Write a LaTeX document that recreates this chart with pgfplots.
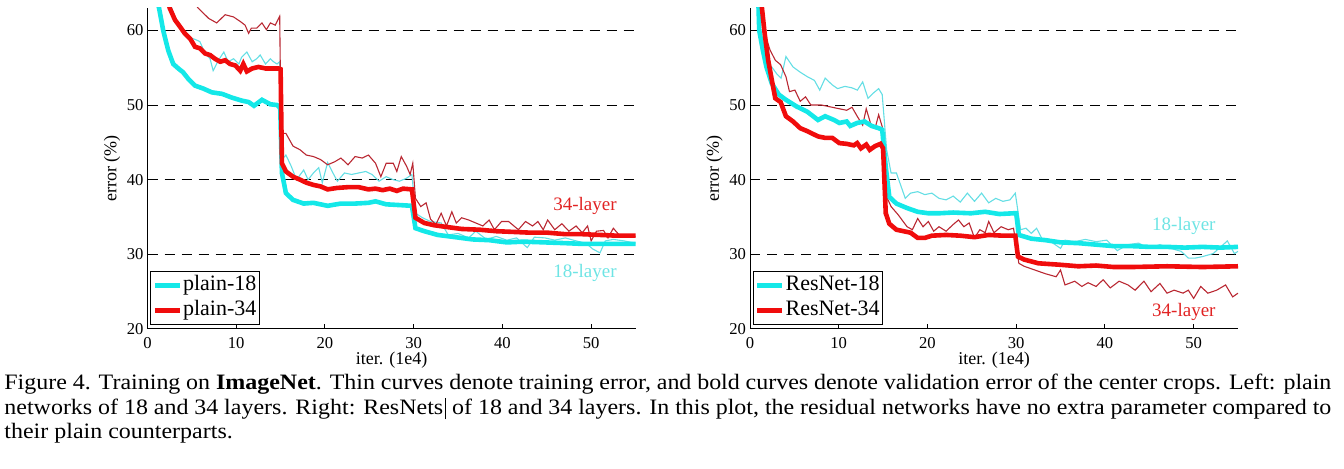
\documentclass[border=0pt]{standalone}
\usepackage{fontspec}
\setmainfont{Liberation Serif}
\usepackage{graphicx}
\usepackage{pgfplots}
\pgfplotsset{compat=1.18}

\definecolor{vcyan}{RGB}{20,232,232}
\definecolor{tcyan}{RGB}{100,222,228}
\definecolor{vred}{RGB}{240,12,12}
\definecolor{tred}{RGB}{185,40,50}
\definecolor{lred}{RGB}{225,35,35}
\definecolor{lcyan}{RGB}{110,228,228}

\pgfplotsset{
 myaxis/.style={
  scale only axis, width=244pt, height=160.5pt,
  xmin=0,xmax=55,ymin=20,ymax=63,
  axis x line*=bottom, axis y line*=left,
  xtick={0,10,...,50}, ytick={20,30,...,60},
  tick align=inside, major tick length=2.5pt,
  ymajorgrids, grid style={black, line width=0.5pt, dash pattern=on 5pt off 3.5pt},
  axis line style={black, line width=0.5pt},
  tick style={black, line width=0.5pt},
  ticklabel style={font=\fontsize{8.3}{9}\selectfont},
  /pgf/number format/assume math mode=true,
  xticklabel style={inner sep=1pt, yshift=-3.25pt},
  yticklabel style={xshift=1.5pt},
  xlabel={iter. (1e4)}, ylabel={error (\%)},
  every axis x label/.style={at={(axis description cs:0.5,0)}, anchor=center, inner sep=0pt, yshift=-15.75pt, font=\fontsize{9}{10}\selectfont},
  every axis y label/.style={at={([xshift=-17.75pt]axis description cs:0,0.5)}, anchor=center, rotate=90, font=\fontsize{9}{10}\selectfont},
  legend style={at={(axis description cs:0,0)}, anchor=south west, xshift=1.25pt, yshift=2pt, draw=black, line width=0.5pt, font=\fontsize{11}{11}\selectfont, inner xsep=1pt, inner ysep=1.5pt, row sep=1.5pt, nodes={inner sep=0.5pt, text height=7.5pt, text depth=2.5pt}},
  legend cell align=left,
  legend image code/.code={\draw[##1, line width=2.3pt] (0pt,0pt) -- (12.5pt,0pt);},
 },
 trainline/.style={line width=0.55pt, forget plot},
 valline/.style={line width=2.3pt},
}

\begin{document}
\begin{tikzpicture}
\path[use as bounding box] (0,0) rectangle (672pt,234.5pt);

% ---------------- Left: plain ----------------
\begin{axis}[myaxis, at={(73.75pt,70pt)}, anchor=south west]
% plain-18 train
\addplot[tcyan, trainline] coordinates {(2.6,63.5) (3.1,61.6) (3.66,60.6) (4.2,59.8) (4.8,59.0) (5.36,58.8) (5.9,58.5) (6.5,56.9) (7.05,56.2) (7.4,54.6) (8.0,56.0) (8.6,57.1) (9.1,55.8) (9.7,56.2) (10.3,55.5) (10.6,56.4) (11.2,57.1) (11.8,55.8) (12.3,56.2) (12.7,56.7) (13.3,55.5) (13.85,56.2) (14.2,55.8) (14.6,55.5) (14.9,55.8) (15.15,42.7) (15.6,43.3) (16.2,41.8) (16.8,40.0) (17.6,41.3) (18.1,40.0) (18.7,40.9) (19.3,41.6) (19.7,39.6) (20.3,42.3) (20.9,40.9) (21.4,39.8) (22.2,40.9) (23.0,40.7) (23.8,40.9) (24.6,41.1) (25.3,40.7) (26.1,39.8) (26.9,40.4) (27.7,40.0) (28.4,39.8) (29.2,40.2) (29.8,40.7) (30.2,35.5) (31.0,34.9) (31.9,34.4) (33.1,34.2) (33.9,32.6) (35.0,32.8) (36.2,32.2) (37.0,33.1) (38.2,32.0) (39.3,32.4) (40.5,31.9) (41.6,32.2) (42.8,30.9) (43.6,32.3) (44.8,32.2) (45.9,31.9) (47.1,32.2) (48.3,31.8) (49.4,31.5) (50.2,30.7) (51.0,30.2) (51.6,31.8) (52.5,32.0) (53.7,31.8) (55,31.5)};
% plain-34 train
\addplot[tred, trainline] coordinates {(5.4,63.5) (5.7,63) (6.3,62.3) (6.9,61.6) (7.8,61.0) (8.75,62.1) (9.7,61.8) (10.45,61.2) (11.0,60.7) (11.4,59.6) (11.7,60.3) (12.3,60.3) (12.9,61.0) (13.4,60.1) (13.85,61.0) (14.4,60.7) (14.9,61.9) (15.05,46.2) (15.6,46.2) (16.4,44.5) (17.2,44.0) (17.9,43.3) (18.7,43.1) (19.5,42.7) (20.3,42.0) (21.1,42.4) (21.8,42.9) (22.6,42.0) (23.4,43.1) (24.2,42.9) (24.9,43.3) (25.7,42.2) (26.3,40.4) (26.9,42.2) (27.7,42.2) (28.1,41.1) (28.6,43.1) (29.2,41.8) (29.6,40.7) (29.9,42.2) (30.2,37.5) (30.8,36.4) (31.4,36.9) (31.9,34.7) (32.5,34.0) (33.1,35.5) (33.7,33.8) (34.3,35.7) (34.8,34.2) (35.4,34.9) (36.2,34.6) (37.0,34.2) (37.8,33.8) (38.5,34.6) (39.1,33.3) (39.9,34.4) (40.7,34.4) (41.3,33.8) (41.8,33.3) (42.6,34.4) (43.4,33.8) (44.0,34.4) (44.6,33.3) (45.1,34.6) (45.9,33.3) (46.7,34.1) (47.5,33.1) (48.3,33.8) (49.0,32.9) (49.6,33.8) (50.0,31.8) (50.6,33.1) (51.4,33.2) (51.9,32.2) (52.5,33.5) (53.3,32.4) (54.1,32.6) (55,32.4)};
% plain-18 val
\addplot[vcyan, valline] coordinates {(1.2,63.5) (1.3,63) (1.77,60) (2.34,57.3) (2.9,55.5) (3.47,54.9) (4.0,54.4) (4.6,53.5) (5.36,52.6) (6.3,52.2) (7.25,51.7) (8.4,51.5) (9.5,51.0) (10.6,50.6) (11.4,50.4) (12.0,49.9) (12.9,50.7) (13.85,50.1) (14.6,50.0) (14.96,49.6) (15.15,40.9) (15.6,38.2) (16.4,37.3) (17.6,36.8) (18.7,36.9) (20.3,36.5) (21.8,36.8) (23.4,36.8) (24.9,36.9) (25.7,37.1) (26.9,36.7) (28.4,36.6) (29.8,36.5) (30.2,33.5) (31.2,33.1) (32.7,32.6) (34.7,32.3) (36.6,32.0) (38.5,31.9) (40.5,31.6) (42.4,31.7) (44.8,31.6) (47.1,31.5) (49.0,31.4) (51.0,31.4) (52.9,31.4) (55,31.4)};
\addlegendentry{plain-18}
% plain-34 val
\addplot[vred, valline] coordinates {(2.4,63.5) (2.5,63) (3.1,61.4) (3.66,60.5) (4.2,59.6) (4.8,58.9) (5.36,57.8) (5.9,57.6) (6.5,56.9) (7.05,56.7) (7.6,56.2) (8.2,55.8) (8.75,56.0) (9.3,55.5) (9.9,55.3) (10.45,54.6) (10.8,55.5) (11.2,54.5) (11.8,54.9) (12.5,55.1) (13.3,54.9) (14.0,54.9) (14.8,54.9) (15.0,54.8) (15.15,42.2) (15.6,41.1) (16.4,40.4) (17.2,40.0) (17.9,39.6) (18.7,39.3) (19.5,39.1) (20.3,38.7) (21.4,38.9) (22.6,39.0) (23.8,39.0) (24.9,38.7) (25.7,38.8) (26.5,38.6) (27.3,38.8) (28.1,38.5) (28.8,38.8) (29.8,38.7) (30.2,34.9) (31.2,34.2) (32.3,33.9) (33.5,33.7) (35.4,33.4) (37.4,33.3) (39.3,33.1) (41.3,33.0) (43.2,32.9) (45.1,32.9) (47.1,32.7) (49.0,32.7) (51.0,32.6) (52.9,32.5) (55,32.5)};
\addlegendentry{plain-34}
\node[text=lred, font=\fontsize{9.5}{10}\selectfont] at (axis cs:49.3,36.5) {34-layer};
\node[text=lcyan, font=\fontsize{9.5}{10}\selectfont] at (axis cs:49.3,27.5) {18-layer};
\end{axis}

% ---------------- Right: ResNet ----------------
\begin{axis}[myaxis, at={(375pt,70pt)}, anchor=south west]
% ResNet-18 train
\addplot[tcyan, trainline] coordinates {(0.95,63.5) (1.2,59.8) (1.6,57.2) (2.05,55.6) (2.45,55.1) (3.0,54.2) (3.5,53.6) (4.05,56.5) (4.85,55.1) (5.66,54.4) (6.46,53.8) (7.26,53.3) (7.86,52.0) (8.47,53.6) (9.27,52.7) (9.87,52.2) (10.7,52.5) (11.5,52.3) (12.1,52.0) (12.7,53.1) (13.3,50.9) (13.9,51.6) (14.5,52.2) (14.9,51.4) (15.4,44.0) (15.9,40.9) (16.5,40.9) (17.5,37.5) (18.1,38.2) (18.9,38.4) (19.7,38.0) (20.5,38.2) (21.3,37.5) (22.1,37.3) (22.9,37.8) (23.7,37.0) (24.5,38.2) (25.3,37.1) (26.1,38.2) (26.9,36.9) (27.7,37.5) (28.5,37.1) (29.3,37.3) (29.9,38.2) (30.5,33.3) (31.1,33.5) (31.7,32.8) (32.3,33.5) (32.9,32.1) (33.9,31.7) (35.0,30.8) (35.5,31.9) (36.6,31.7) (37.8,32.0) (39.0,31.7) (40.2,31.9) (41.4,30.5) (42.6,31.3) (43.8,31.5) (45.0,30.8) (46.2,31.3) (47.4,30.8) (48.6,30.4) (49.4,29.5) (50.2,29.5) (51.0,29.7) (52.2,30.1) (53.8,31.8) (54.6,30.1) (55,30.4)};
% ResNet-34 train
\addplot[tred, trainline] coordinates {(1.3,63.5) (1.65,59.6) (1.9,58.7) (2.25,57.4) (2.85,56.0) (3.45,55.4) (4.05,53.8) (4.45,51.8) (5.06,52.0) (5.66,50.5) (6.26,51.1) (6.86,50.0) (8.06,50.0) (9.27,49.7) (10.07,49.5) (10.9,49.3) (11.5,49.7) (12.08,48.5) (12.7,47.3) (13.1,49.5) (13.7,47.1) (14.1,46.9) (14.5,48.7) (14.9,47.1) (15.4,37.7) (15.9,36.4) (16.7,35.3) (17.7,33.7) (18.3,33.3) (18.9,34.8) (19.5,33.7) (20.1,34.4) (20.7,33.1) (21.3,33.7) (22.1,33.1) (22.9,34.0) (23.5,34.6) (24.1,33.7) (24.7,34.2) (25.3,32.2) (25.9,33.3) (26.5,32.9) (26.9,34.4) (27.5,32.9) (28.3,33.7) (29.1,33.3) (29.7,33.5) (30.3,28.8) (30.9,28.4) (32.1,27.9) (33.3,27.4) (34.5,27.0) (35.0,27.9) (35.5,25.9) (36.6,26.4) (37.4,25.7) (38.1,26.2) (39.0,25.7) (39.8,26.6) (40.6,25.5) (41.6,26.4) (42.6,25.9) (43.4,25.2) (44.4,26.4) (45.2,25.0) (46.2,26.1) (47.0,24.8) (47.8,25.2) (48.8,24.8) (49.4,25.2) (50.0,24.1) (50.8,25.7) (51.6,24.8) (52.6,25.2) (53.6,25.9) (54.4,24.3) (55,24.8)};
% ResNet-18 val
\addplot[vcyan, valline] coordinates {(0.95,63.5) (1.04,60) (1.44,57.4) (1.85,55.1) (2.45,52.9) (3.25,51.4) (4.05,50.7) (5.26,49.8) (6.46,49.1) (7.66,48.0) (8.47,48.5) (9.47,48.0) (10.07,47.6) (10.9,47.8) (11.3,47.2) (12.08,47.6) (12.9,47.8) (13.7,47.2) (14.5,46.9) (14.9,46.7) (15.3,41.7) (15.7,37.7) (16.5,36.8) (17.7,36.2) (18.9,35.7) (20.1,35.5) (21.3,35.5) (22.9,35.6) (24.9,35.5) (26.5,35.7) (28.1,35.4) (29.7,35.5) (30.0,35.5) (30.3,32.6) (31.7,32.1) (33.3,31.9) (35,31.6) (37,31.5) (39,31.3) (41,31.1) (43,31.1) (45,31.0) (47,31.0) (49,30.9) (51,31.0) (53,30.9) (55,31.0)};
\addlegendentry{ResNet-18}
% ResNet-34 val
\addplot[vred, valline] coordinates {(1.3,63.5) (1.65,59.6) (2.05,56.0) (2.45,53.4) (2.85,50.9) (3.45,50.4) (4.05,48.5) (4.85,47.8) (5.66,46.9) (6.46,46.5) (7.66,45.8) (8.47,45.6) (9.27,45.6) (10.07,44.9) (10.9,44.8) (11.7,44.6) (12.08,44.9) (12.5,44.2) (13.1,44.7) (13.5,44.0) (14.1,44.5) (14.7,44.8) (15.0,44.2) (15.3,35.5) (15.7,34.1) (16.5,33.3) (17.3,33.1) (18.1,32.9) (18.9,32.2) (19.7,32.2) (20.5,32.5) (22.1,32.6) (23.7,32.5) (25.3,32.3) (26.9,32.6) (28.5,32.5) (29.9,32.5) (30.2,29.7) (30.9,29.3) (32.5,28.8) (35,28.6) (37,28.4) (39,28.5) (41,28.3) (43,28.3) (47,28.4) (51,28.3) (55,28.4)};
\addlegendentry{ResNet-34}
\node[text=lcyan, font=\fontsize{9.5}{10}\selectfont] at (axis cs:48.9,33.8) {18-layer};
\node[text=lred, font=\fontsize{9.5}{10}\selectfont] at (axis cs:48.9,22.3) {34-layer};
\end{axis}

% ---------------- Caption ----------------
\node[anchor=base west, inner sep=0pt] at (2pt,39.5pt) {\fontsize{11}{12}\selectfont\scalebox{1.09}[1]{\makebox[608.7pt][s]{Figure 4. Training on \textbf{ImageNet}. Thin curves denote training error, and bold curves denote validation error of the center crops. Left: plain}}};
\node[anchor=base west, inner sep=0pt] at (2pt,27.25pt) {\fontsize{11}{12}\selectfont\scalebox{1.09}[1]{\makebox[608.7pt][s]{networks of 18 and 34 layers. Right: ResNets\kern0.6pt\rule[-2.5pt]{0.5pt}{10.5pt}\kern0.3pt{} of 18 and 34 layers. In this plot, the residual networks have no extra parameter compared to}}};
\node[anchor=base west, inner sep=0pt] at (2pt,15pt) {\fontsize{11}{12}\selectfont\scalebox{1.09}[1]{their plain counterparts.}};
\end{tikzpicture}
\end{document}
